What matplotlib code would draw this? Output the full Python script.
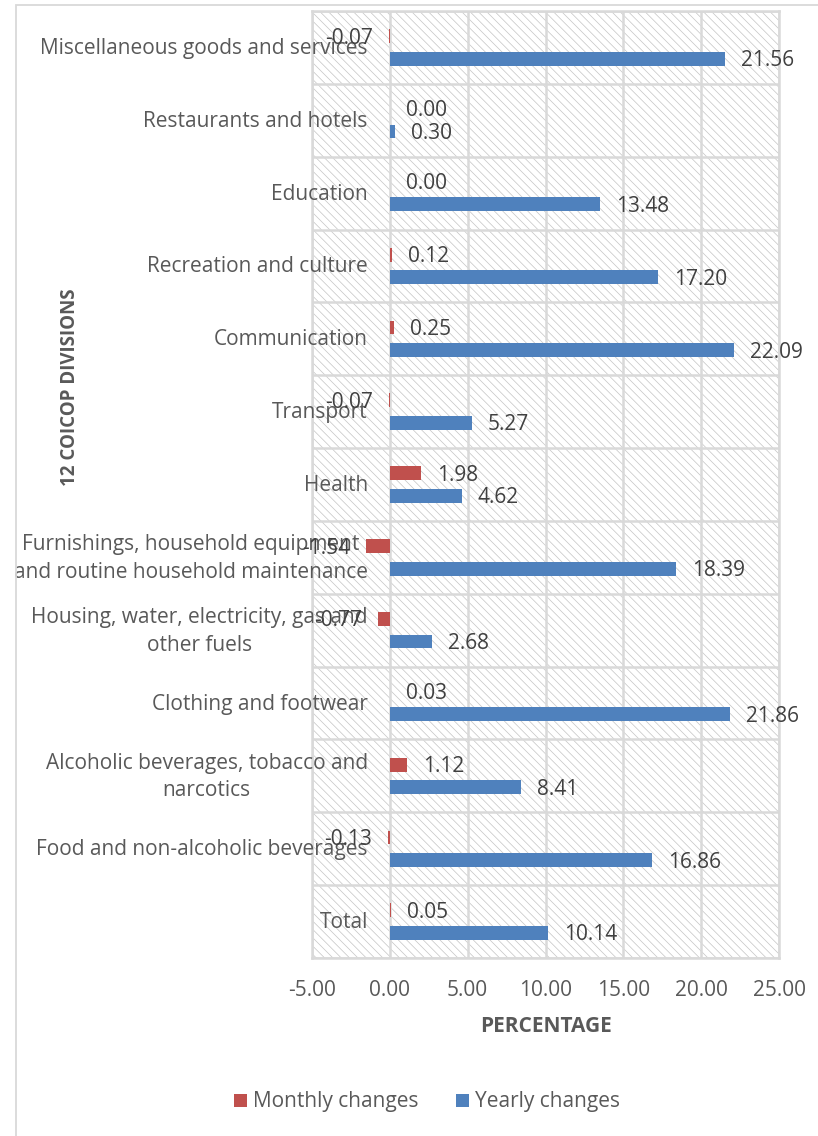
import matplotlib
matplotlib.use("Agg")
import matplotlib.pyplot as plt
from matplotlib.patches import Rectangle, Patch
from matplotlib.transforms import offset_copy
import numpy as np

plt.rcParams['font.family'] = ['Open Sans', 'DejaVu Sans']
plt.rcParams['hatch.linewidth'] = 0.5
plt.rcParams['hatch.color'] = '#c4c4c4'

categories = [
    "Miscellaneous goods and services",
    "Restaurants and hotels",
    "Education",
    "Recreation and culture",
    "Communication",
    "Transport",
    "Health",
    "Furnishings, household equipment\nand routine household maintenance",
    "Housing, water, electricity, gas and\nother fuels",
    "Clothing and footwear",
    "Alcoholic beverages, tobacco and\nnarcotics",
    "Food and non-alcoholic beverages",
    "Total",
]
monthly = [-0.07, 0.00, 0.00, 0.12, 0.25, -0.07, 1.98, -1.54, -0.77, 0.03, 1.12, -0.13, 0.05]
yearly = [21.56, 0.30, 13.48, 17.20, 22.09, 5.27, 4.62, 18.39, 2.68, 21.86, 8.41, 16.86, 10.14]
xticks = [-5, 0, 5, 10, 15, 20, 25]

RED = '#c0504d'
BLUE = '#4f81bd'
GRID = '#d9d9d9'
TXT = '#404040'
AX = '#595959'

W, H = 818, 1136
fig = plt.figure(figsize=(W / 100, H / 100), dpi=100)

# outer chart border
fig.patches.append(Rectangle((16 / W, -0.01), 1.0, 1 - 5 / H + 0.01, transform=fig.transFigure,
                             fill=False, edgecolor='#d9d9d9', linewidth=1.3, zorder=0))

left, right, top, bottom = 312 / W, 779 / W, 1 - 11 / H, 1 - 958 / H
ax = fig.add_axes([left, bottom, right - left, top - bottom])
ax.set_facecolor('white')
ax.add_patch(Rectangle((0, 0), 1, 1, transform=ax.transAxes, facecolor='white',
                       hatch='\\' * 4, edgecolor='#c4c4c4', linewidth=0, zorder=0))

n = len(categories)
y = np.arange(n)
h = 0.19
off = 0.155
ax.barh(y - off, monthly, height=h, color=RED, zorder=3)
ax.barh(y + off, yearly, height=h, color=BLUE, zorder=3)

ax.set_xlim(-5, 25)
ax.set_ylim(n - 0.5, -0.5)
ax.set_xticks(xticks)
ax.set_xticklabels([f"{v:.2f}" for v in xticks])
ax.set_yticks([])
for xv in xticks:
    ax.axvline(xv, color=GRID, lw=1.8, zorder=1)
for yv in np.arange(-0.5, n, 1.0):
    ax.axhline(yv, color=GRID, lw=1.8, zorder=1)
for s in ax.spines.values():
    s.set_color(GRID)
    s.set_linewidth(1.8)
ax.tick_params(axis='x', length=0, pad=16, labelsize=15, labelcolor=AX)

# value labels
for i, (m, yv) in enumerate(zip(monthly, yearly)):
    for val, yy in ((m, i - off), (yv, i + off)):
        dx = 16 if val >= 0 else -16
        ax.annotate(f"{val:.2f}", xy=(val, yy), xytext=(dx, -2), textcoords='offset pixels',
                    ha='left' if val >= 0 else 'right', va='center', fontsize=15,
                    color=TXT, zorder=5)

# category labels (next to the axis at x=0)
trans = offset_copy(ax.transData, fig=fig, x=-22, y=-1, units='dots')
for i, c in enumerate(categories):
    ax.text(0, i, c, transform=trans, ha='right', va='center', multialignment='center',
            fontsize=15, color=AX, zorder=4, clip_on=False, linespacing=1.42)

fig.text(546 / W, 1 - 1027 / H, "PERCENTAGE", ha='center', va='center', fontsize=15,
         fontweight='bold', color=AX)
fig.text(70 / W, 1 - 387 / H, "12 COICOP DIVISIONS", ha='center', va='center', fontsize=13.5,
         fontweight='bold', color=AX, rotation=90)

# legend
handles = [Patch(facecolor=RED), Patch(facecolor=BLUE)]
fig.legend(handles, ["Monthly changes", "Yearly changes"], loc='center',
           bbox_to_anchor=(427 / W, 1 - 1102 / H), ncol=2, frameon=False, fontsize=15,
           labelcolor=AX, handlelength=0.6, handleheight=0.6, handletextpad=0.3,
           columnspacing=1.8)

fig.savefig("out.png", dpi=100)
